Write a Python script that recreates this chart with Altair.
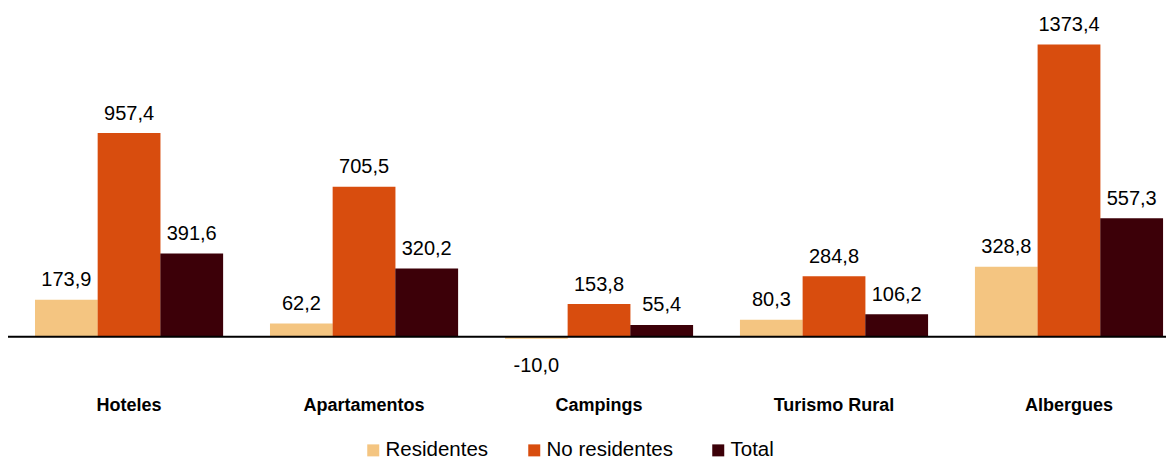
import altair as alt
import pandas as pd

categories = ["Hoteles", "Apartamentos", "Campings", "Turismo Rural", "Albergues"]
series = ["Residentes", "No residentes", "Total"]
residentes = [173.9, 62.2, -10.0, 80.3, 328.8]
no_residentes = [957.4, 705.5, 153.8, 284.8, 1373.4]
total = [391.6, 320.2, 55.4, 106.2, 557.3]
colors = ["#F4C581", "#D84D0E", "#3C0008"]

rows = []
for s, vals in zip(series, [residentes, no_residentes, total]):
    for c, v in zip(categories, vals):
        rows.append({"cat": c, "serie": s, "valor": v,
                     "etiqueta": f"{v:.1f}".replace(".", ",")})
df = pd.DataFrame(rows)

FONT = "Liberation Sans"
YDOM = [-20, 1545]

x = alt.X("cat:N", sort=categories, title=None,
          scale=alt.Scale(paddingInner=0.2, paddingOuter=0.064, align=0.9),
          axis=alt.Axis(domain=False, ticks=False, labelAngle=0, labelPadding=55,
                        labelFontSize=18, labelFontWeight="bold", labelColor="#000000",
                        labelFont=FONT))
xo = alt.XOffset("serie:N", sort=series)
y = alt.Y("valor:Q", axis=None, scale=alt.Scale(domain=YDOM, nice=False, zero=False))

base = alt.Chart(df)

bars = base.mark_bar(size=62.8).encode(
    x=x, xOffset=xo, y=y, y2=alt.datum(0),
    color=alt.Color("serie:N", sort=series,
                    scale=alt.Scale(domain=series, range=colors),
                    legend=alt.Legend(title=None, orient="none", direction="horizontal",
                                      legendX=355, legendY=432,
                                      symbolType="square", symbolSize=144,
                                      symbolStrokeWidth=0,
                                      labelFontSize=20.5, labelFont=FONT, labelColor="#000000",
                                      labelOffset=2, columnPadding=35)),
)

pos_text = base.transform_filter("datum.valor >= 0").mark_text(
    baseline="alphabetic", dy=-13.5, fontSize=20, font=FONT, color="#000000"
).encode(x=x, xOffset=xo, y=y, text="etiqueta:N")

neg_text = base.transform_filter("datum.valor < 0").mark_text(
    baseline="alphabetic", dy=33, fontSize=20, font=FONT, color="#000000"
).encode(x=x, xOffset=xo, y=y, text="etiqueta:N")

zero = alt.Chart(pd.DataFrame({"v": [0]})).mark_rule(color="#000000", strokeWidth=2).encode(
    y=alt.Y("v:Q", scale=alt.Scale(domain=YDOM, nice=False, zero=False), axis=None)
)

chart = alt.layer(bars, zero, pos_text, neg_text).properties(
    width=1158, height=333,
    padding={"left": 0, "top": 0, "right": 0, "bottom": 123},
    autosize=alt.AutoSizeParams(type="none"),
).configure_view(stroke=None)

chart.save("out.html", embed_options={"renderer": "svg", "actions": False})
